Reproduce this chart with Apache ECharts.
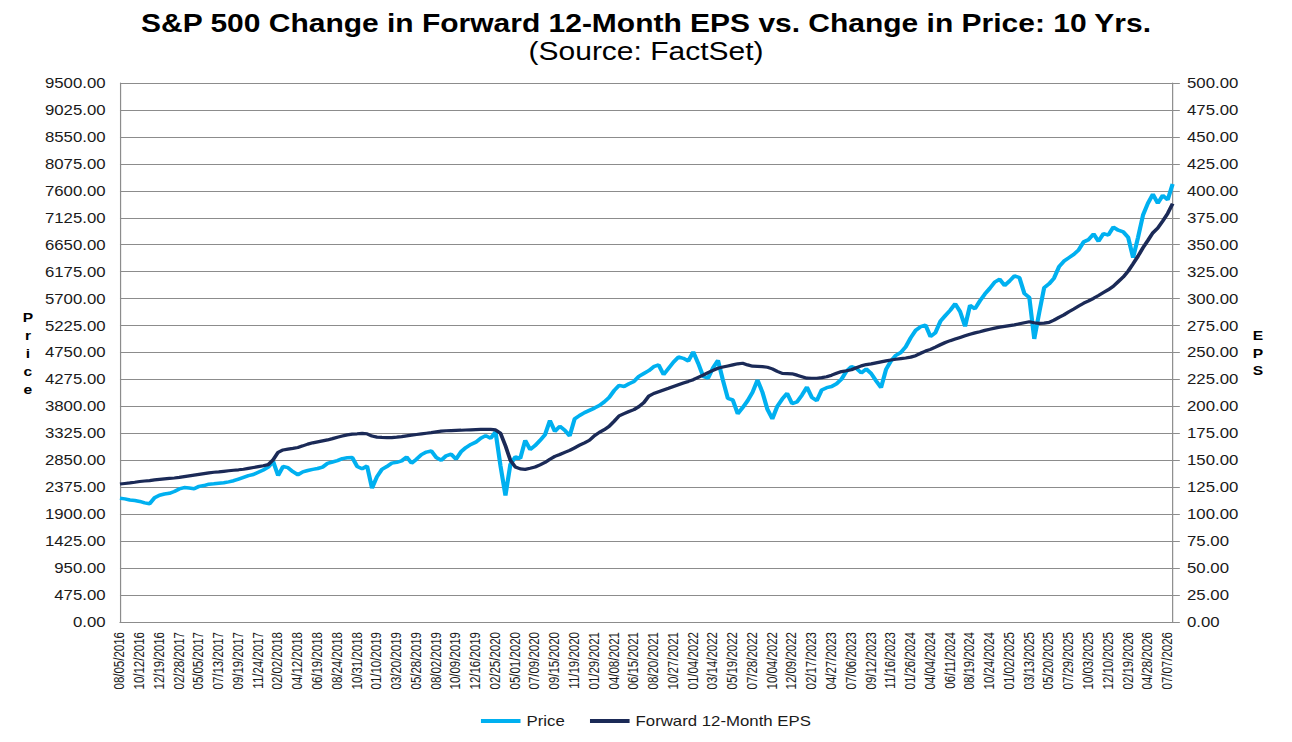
<!DOCTYPE html>
<html><head><meta charset="utf-8">
<script src="https://cdn.jsdelivr.net/npm/echarts/dist/echarts.min.js"></script>
<style>
html,body{margin:0;padding:0;background:#fff;overflow:hidden}
#chart{width:1077px;height:742px;transform:scaleX(1.19963);transform-origin:0 0;}
</style></head><body><div id="chart"></div>
<script>
const dates = [
'08/05/2016','08/22/2016','09/08/2016','09/26/2016','10/12/2016','10/28/2016','11/15/2016','12/02/2016','12/19/2016','01/06/2017',
'01/25/2017','02/10/2017','02/28/2017','03/17/2017','04/03/2017','04/19/2017','05/05/2017','05/22/2017','06/09/2017','06/26/2017',
'07/13/2017','07/28/2017','08/15/2017','09/01/2017','09/19/2017','10/05/2017','10/23/2017','11/08/2017','11/24/2017','12/12/2017',
'12/29/2017','01/17/2018','02/02/2018','02/21/2018','03/09/2018','03/27/2018','04/12/2018','04/27/2018','05/15/2018','06/01/2018',
'06/19/2018','07/06/2018','07/23/2018','08/08/2018','08/24/2018','09/11/2018','09/27/2018','10/15/2018','10/31/2018','11/16/2018',
'12/05/2018','12/21/2018','01/10/2019','01/28/2019','02/14/2019','03/04/2019','03/20/2019','04/05/2019','04/24/2019','05/10/2019',
'05/28/2019','06/13/2019','07/01/2019','07/18/2019','08/02/2019','08/20/2019','09/05/2019','09/23/2019','10/09/2019','10/25/2019',
'11/12/2019','11/29/2019','12/16/2019','01/03/2020','01/22/2020','02/07/2020','02/25/2020','03/12/2020','03/30/2020','04/15/2020',
'05/01/2020','05/19/2020','06/05/2020','06/23/2020','07/09/2020','07/27/2020','08/12/2020','08/28/2020','09/15/2020','10/01/2020',
'10/19/2020','11/04/2020','11/19/2020','12/08/2020','12/24/2020','01/12/2021','01/29/2021','02/17/2021','03/05/2021','03/23/2021',
'04/08/2021','04/26/2021','05/12/2021','05/28/2021','06/15/2021','07/01/2021','07/20/2021','08/05/2021','08/20/2021','09/08/2021',
'09/24/2021','10/12/2021','10/27/2021','11/12/2021','12/01/2021','12/17/2021','01/04/2022','01/21/2022','02/08/2022','02/25/2022',
'03/14/2022','03/30/2022','04/18/2022','05/04/2022','05/19/2022','06/07/2022','06/24/2022','07/13/2022','07/28/2022','08/15/2022',
'08/31/2022','09/19/2022','10/04/2022','10/20/2022','11/07/2022','11/23/2022','12/09/2022','12/28/2022','01/13/2023','02/01/2023',
'02/17/2023','03/08/2023','03/24/2023','04/12/2023','04/27/2023','05/15/2023','06/01/2023','06/20/2023','07/06/2023','07/24/2023',
'08/09/2023','08/25/2023','09/12/2023','09/28/2023','10/16/2023','11/01/2023','11/16/2023','12/05/2023','12/21/2023','01/09/2024',
'01/26/2024','02/13/2024','03/01/2024','03/19/2024','04/04/2024','04/22/2024','05/08/2024','05/24/2024','06/11/2024','06/27/2024',
'07/16/2024','08/01/2024','08/19/2024','09/05/2024','09/23/2024','10/09/2024','10/24/2024','11/11/2024','11/27/2024','12/16/2024',
'01/02/2025','01/21/2025','02/06/2025','02/25/2025','03/13/2025','03/31/2025','04/16/2025','05/05/2025','05/20/2025','06/05/2025',
'06/24/2025','07/11/2025','07/29/2025','08/14/2025','09/02/2025','09/18/2025','10/03/2025','10/21/2025','11/06/2025','11/24/2025',
'12/10/2025','12/29/2025','01/15/2026','02/03/2026','02/19/2026','03/09/2026','03/25/2026','04/13/2026','04/28/2026','05/15/2026',
'06/02/2026','06/19/2026','07/07/2026','07/24/2026'
];

const price = [
2180,2170,2150,2140,2125,2100,2085,2190,2235,2255,
2268,2300,2345,2370,2360,2350,2390,2405,2430,2435,
2445,2455,2470,2490,2520,2550,2580,2600,2640,2680,
2730,2830,2580,2740,2720,2650,2595,2645,2670,2690,
2705,2730,2795,2820,2845,2880,2895,2900,2740,2700,
2750,2360,2560,2690,2740,2800,2815,2840,2910,2800,
2870,2950,2995,3015,2900,2850,2930,2960,2870,3000,
3075,3130,3170,3240,3285,3240,3350,2750,2230,2780,
2910,2885,3200,3040,3110,3200,3300,3550,3360,3450,
3380,3280,3580,3640,3690,3730,3770,3815,3880,3960,
4080,4170,4150,4200,4240,4330,4380,4430,4500,4530,
4360,4470,4580,4670,4647,4600,4760,4560,4330,4300,
4480,4610,4265,3940,3913,3670,3780,3900,4050,4265,
4050,3750,3580,3800,3930,4030,3850,3880,4000,4140,
3960,3900,4090,4130,4150,4200,4280,4420,4500,4470,
4390,4460,4380,4250,4130,4450,4600,4700,4750,4850,
5010,5140,5205,5234,5030,5100,5300,5400,5495,5610,
5470,5210,5580,5520,5660,5780,5880,5990,6040,5930,
6010,6100,6070,5790,5720,4990,5450,5890,5960,6060,
6260,6360,6420,6480,6560,6700,6740,6840,6710,6845,
6820,6960,6905,6875,6780,6420,6780,7170,7380,7540,
7380,7520,7440,7720
];

const eps = [
128.0,128.5,129.0,129.6,130.3,130.8,131.2,131.8,132.3,132.8,
133.2,133.6,134.1,134.8,135.5,136.2,136.9,137.6,138.3,138.9,
139.3,139.8,140.3,140.8,141.2,141.7,142.5,143.3,144.1,144.9,
146.0,150.5,157.4,159.6,160.4,161.1,161.9,163.4,165.0,166.2,
167.1,168.0,168.9,170.1,171.4,172.5,173.6,174.3,174.6,175.0,
174.6,172.5,171.5,171.2,171.0,171.1,171.5,172.0,172.7,173.3,
173.9,174.5,175.1,175.7,176.4,177.0,177.4,177.6,177.8,177.9,
178.1,178.3,178.5,178.7,178.7,178.7,178.2,175.0,163.5,150.0,
143.8,142.0,141.6,142.6,143.8,145.8,148.0,151.0,153.6,155.4,
157.3,159.2,161.6,164.0,166.2,168.6,172.8,175.9,178.4,181.5,
186.3,191.2,193.3,195.3,197.0,199.8,203.6,209.5,212.0,213.6,
215.2,216.8,218.5,220.1,221.7,223.2,224.8,226.9,229.0,231.3,
233.4,235.4,236.5,237.5,238.5,239.5,240.0,238.5,237.3,237.1,
236.9,236.3,234.8,232.5,230.6,230.4,230.2,229.0,227.6,226.2,
226.1,226.1,226.7,227.5,229.0,230.8,232.3,233.1,234.0,235.8,
237.6,238.8,239.5,240.4,241.3,242.2,243.0,243.7,244.3,244.9,
245.7,247.0,249.3,251.3,252.9,255.0,257.2,259.3,261.0,262.5,
264.0,265.5,267.0,268.2,269.3,270.5,271.6,272.6,273.5,274.2,
274.9,275.6,276.6,277.6,278.5,277.6,277.0,277.2,277.9,280.0,
282.6,284.9,287.8,290.4,293.1,295.7,297.9,300.3,302.9,305.6,
308.3,311.5,315.8,320.0,325.5,332.3,339.4,347.2,354.0,361.0,
365.5,372.0,379.0,388.0
];

const priceAxisRange = [0, 9500, 475];
const epsAxisRange = [0, 500, 25];
const seriesNames = ['Price', 'Forward 12-Month EPS'];
const titleText = 'S&P 500 Change in Forward 12-Month EPS vs. Change in Price: 10 Yrs.';
const subtitleText = '(Source: FactSet)';
const leftAxisName = 'Price';
const rightAxisName = 'EPS';

const FONT = '"Liberation Sans", Arial, sans-serif';
const GRID = '#8c8c8c';
const TXT = '#1a1a1a';

const chart = echarts.init(document.getElementById('chart'), null, {renderer: 'svg'});
chart.setOption({
  animation: false,
  backgroundColor: '#ffffff',
  title: [
    {text: titleText, left: 'center', top: 6,
     textStyle: {fontFamily: FONT, fontSize: 25, fontWeight: 'bold', color: '#000'}},
    {text: subtitleText, left: 'center', top: 34,
     textStyle: {fontFamily: FONT, fontSize: 25, fontWeight: 'normal', color: '#000'}}
  ],
  grid: {left: 100, right: 99.5, top: 83, bottom: 120, containLabel: false},
  legend: {
    data: seriesNames, left: 'center', top: 709, icon: 'rect',
    itemWidth: 33, itemHeight: 4, itemGap: 21,
    textStyle: {fontFamily: FONT, fontSize: 14, color: TXT}
  },
  xAxis: {
    type: 'category', data: dates, boundaryGap: false,
    axisLine: {show: true, lineStyle: {color: GRID, width: 1}},
    axisTick: {show: false},
    axisLabel: {interval: 3, rotate: 90, margin: 10, fontFamily: FONT, fontSize: 11.5, color: TXT},
    splitLine: {show: false}
  },
  yAxis: [
    {type: 'value', position: 'left', min: priceAxisRange[0], max: priceAxisRange[1], interval: priceAxisRange[2],
     axisLine: {show: true, lineStyle: {color: GRID, width: 1}},
     axisTick: {show: false},
     axisLabel: {formatter: v => v.toFixed(2), margin: 12, fontFamily: FONT, fontSize: 14, color: TXT},
     splitLine: {show: true, lineStyle: {color: GRID, width: 1}}},
    {type: 'value', position: 'right', min: epsAxisRange[0], max: epsAxisRange[1], interval: epsAxisRange[2],
     axisLine: {show: true, lineStyle: {color: GRID, width: 1}},
     axisTick: {show: true, inside: false, length: 6, lineStyle: {color: GRID, width: 1}},
     axisLabel: {formatter: v => v.toFixed(2), margin: 12, fontFamily: FONT, fontSize: 14, color: TXT},
     splitLine: {show: false}}
  ],
  series: [
    {name: seriesNames[0], type: 'line', data: price, yAxisIndex: 0, showSymbol: false, symbol: 'none',
     lineStyle: {color: '#00B0F0', width: 3.5}, itemStyle: {color: '#00B0F0'}},
    {name: seriesNames[1], type: 'line', data: eps, yAxisIndex: 1, showSymbol: false, symbol: 'none',
     lineStyle: {color: '#1B2A57', width: 3.2}, itemStyle: {color: '#1B2A57'}}
  ],
  graphic: [
    {type: 'text', x: 23.3, y: 308.5,
     style: {text: leftAxisName.split('').join('\n'), fontFamily: FONT, fontSize: 13, fontWeight: 'bold',
             lineHeight: 18, fill: '#000', align: 'center', textAlign: 'center', verticalAlign: 'top'}},
    {type: 'text', x: 1048.7, y: 327,
     style: {text: rightAxisName.split('').join('\n'), fontFamily: FONT, fontSize: 13, fontWeight: 'bold',
             lineHeight: 17.5, fill: '#000', align: 'center', textAlign: 'center', verticalAlign: 'top'}}
  ]
});
</script>
</body></html>
